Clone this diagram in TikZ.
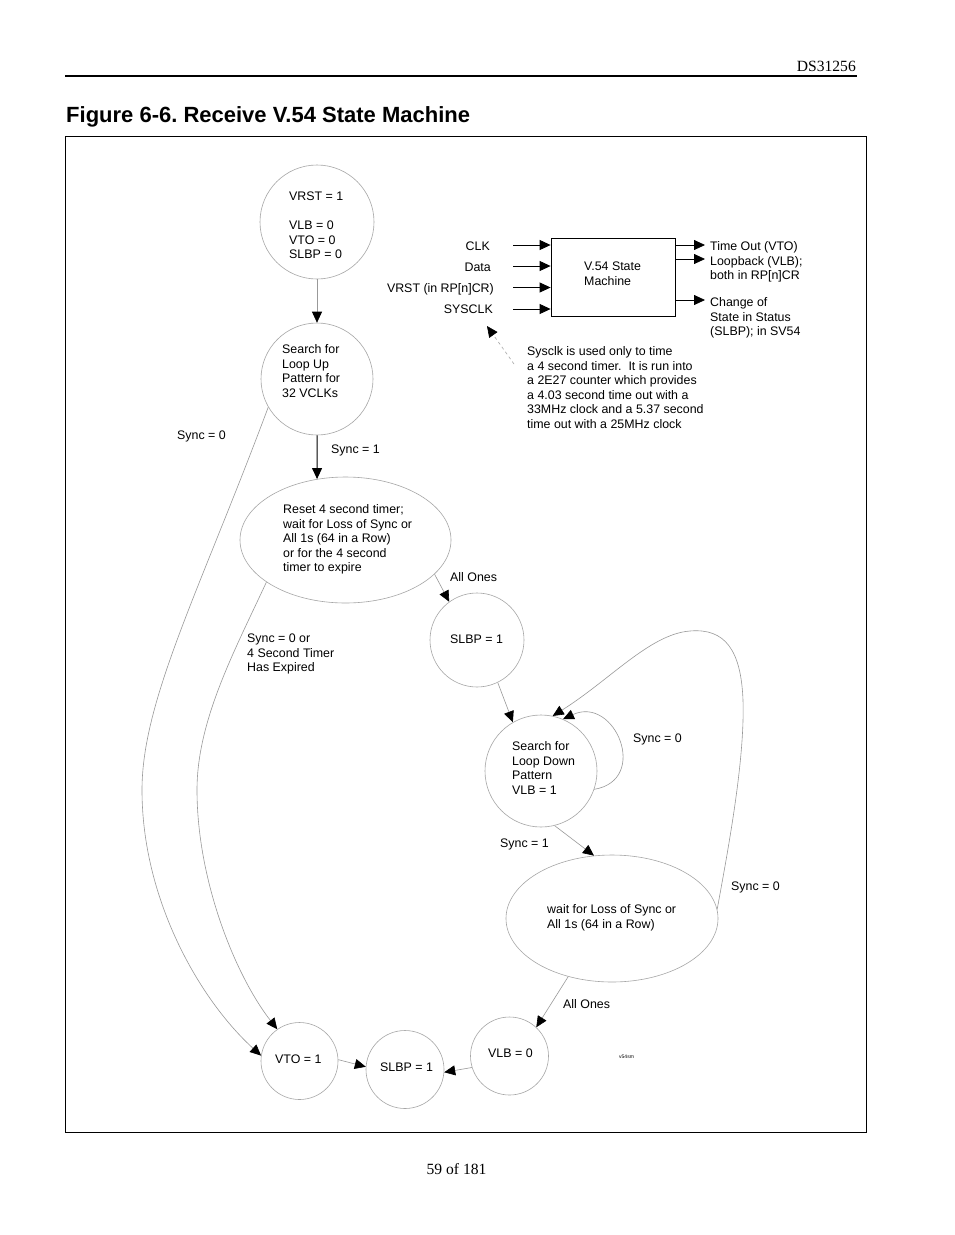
\documentclass[tikz,border=0pt]{standalone}
\usepackage{fontspec}
\setmainfont{Liberation Sans}
\newfontfamily\serifface{Liberation Serif}
\usetikzlibrary{shapes.geometric,arrows.meta}
\frenchspacing
\tikzset{
  state/.style={circle, draw=gray!70, line width=0.6pt, inner sep=0pt},
  oval/.style={ellipse, draw=gray!70, line width=0.6pt, inner sep=0pt},
  lbl/.style={font=\fontsize{12.4}{14.5}\selectfont, align=left, inner sep=0pt, anchor=north west},
  lblr/.style={font=\fontsize{12.4}{14.5}\selectfont, inner sep=0pt, anchor=base east},
  edge/.style={draw=gray!80, line width=0.6pt, -{Triangle[length=11pt,width=10pt,color=black]}},
  blackedge/.style={draw=black, line width=1pt, -{Triangle[length=11pt,width=10pt,color=black]}},
  ioarrow/.style={draw=black, line width=0.8pt, -{Triangle[length=11pt,width=10pt,color=black]}},
  notearrow/.style={draw=gray!70, line width=0.6pt, dash pattern=on 3pt off 3pt, -{Triangle[length=11pt,width=10pt,color=black]}},
}
\newcommand\txtat[4]{\node[lbl] (#1) at (#2,#3-10) {\rule{0pt}{10pt}#4};}
\begin{document}
\frenchspacing
\begin{tikzpicture}[x=1pt,y=-1pt]
\useasboundingbox (0,0) rectangle (954,1235);
\fill[white] (0,0) rectangle (954,1235);
% page furniture
\node[font=\serifface\fontsize{15.6}{18}\selectfont, anchor=base east, inner sep=0pt] (hdr) at (856,71) {DS31256};
\draw[line width=1.5pt] (65,76) -- (857,76);
\node[font=\fontsize{22}{24}\selectfont\bfseries, anchor=base west, inner sep=0pt] (title) at (66,122.5) {Figure 6-6. Receive V.54 State Machine};
\draw[line width=1pt] (65,136) rectangle (866,1132);
\node[font=\serifface\fontsize{15.6}{18}\selectfont, anchor=base, inner sep=0pt] (pg) at (456.5,1174) {59 of 181};
% states
\node[state, minimum size=114pt] (init) at (317,222) {};
\node[state, minimum size=112pt] (up) at (317,379) {};
\node[oval, minimum width=211pt, minimum height=126pt] (reset) at (345.5,540) {};
\node[state, minimum size=94pt] (slbpA) at (477,640) {};
\node[state, minimum size=112pt] (down) at (541,771) {};
\node[oval, minimum width=212pt, minimum height=127pt] (wait) at (612,918.5) {};
\node[state, minimum size=78pt] (vlb) at (509.5,1056) {};
\node[state, minimum size=78pt] (slbpB) at (405,1069.5) {};
\node[state, minimum size=77pt] (vto) at (299.5,1061) {};
% state texts
\txtat{tinit}{289}{200.5}{VRST = 1\\[14.5pt]VLB = 0\\VTO = 0\\SLBP = 0}
\txtat{tup}{282}{353.5}{Search for\\Loop Up\\Pattern for\\32 VCLKs}
\txtat{treset}{283}{513.5}{Reset 4 second timer;\\wait for Loss of Sync or\\All 1s (64 in a Row)\\or for the 4 second\\timer to expire}
\txtat{tslbpA}{450}{643.5}{SLBP = 1}
\txtat{tdown}{512}{750.5}{Search for\\Loop Down\\Pattern\\VLB = 1}
\txtat{twait}{547}{913.5}{wait for Loss of Sync or\\All 1s (64 in a Row)}
\txtat{tvlb}{488}{1057.5}{VLB = 0}
\txtat{tslbpB}{380}{1071.5}{SLBP = 1}
\txtat{tvto}{275}{1063.5}{VTO = 1}
% block
\node[draw, line width=0.8pt, minimum width=124pt, minimum height=78pt, inner sep=0pt] (blk) at (613,277) {};
\txtat{tblk}{584}{270.5}{V.54 State\\Machine}
\coordinate (iclk) at (513,245);
\coordinate (idata) at (513,266);
\coordinate (ivrst) at (513,287.5);
\coordinate (isys) at (513,309);
\draw[ioarrow] (iclk) -- (iclk -| blk.west);
\draw[ioarrow] (idata) -- (idata -| blk.west);
\draw[ioarrow] (ivrst) -- (ivrst -| blk.west);
\draw[ioarrow] (isys) -- (isys -| blk.west);
\node[lblr] (lclk) at (490,250.5) {CLK};
\node[lblr] (ldata) at (491,271.5) {Data};
\node[lblr] (lvrst) at (494,292.5) {VRST (in RP[n]CR)};
\node[lblr] (lsys) at (493,313.5) {SYSCLK};
\coordinate (ovto) at (705,245);
\coordinate (ovlb) at (705,259);
\coordinate (oslbp) at (705,300);
\draw[ioarrow] (ovto -| blk.east) -- (ovto);
\draw[ioarrow] (ovlb -| blk.east) -- (ovlb);
\draw[ioarrow] (oslbp -| blk.east) -- (oslbp);
\txtat{tout1}{710}{250.5}{Time Out (VTO)\\Loopback (VLB);\\both in RP[n]CR}
\txtat{tout2}{710}{306.5}{Change of\\State in Status\\(SLBP); in SV54}
\txtat{tnote}{527}{355.5}{Sysclk is used only to time\\a 4 second timer.~~It is run into\\a 2E27 counter which provides\\a 4.03 second time out with a\\33MHz clock and a 5.37 second\\time out with a 25MHz clock}
\coordinate (nstart) at (514,364);
\coordinate (ntip) at (487,326);
\draw[notearrow] (nstart) -- (ntip);
% transitions
\draw[edge] (init.south) -- (up.north);
\draw[blackedge] (up.south) -- (reset.115);
\draw[edge] (up.210) .. controls (200,590) and (142,700) .. (142,790) .. controls (142,900) and (200,1000) .. (vto.172);
\draw[edge] (reset.208) .. controls (235,650) and (197,720) .. (197,790) .. controls (197,880) and (235,975) .. (vto.125);
\draw[edge] (reset.339) -- (slbpA.126);
\draw[edge] (slbpA.296) -- (down.120);
\draw[edge] (down.341) .. controls (650,780) and (615,695) .. (down.67);
\draw[edge] (down.284) -- (wait.106);
\draw[edge] (wait.5) .. controls (728,850) and (745,760) .. (743,700) .. controls (741,650) and (725,628) .. (690,631) .. controls (650,634) and (610,680) .. (down.78);
\draw[edge] (wait.233) -- (vlb.47);
\draw[edge] (vlb.197) -- (slbpB.356);
\draw[edge] (vto.2) -- (slbpB.176);
% transition labels
\txtat{l1}{331}{453.5}{Sync = 1}
\txtat{l2}{177}{439.5}{Sync = 0}
\txtat{l3}{450}{581.5}{All Ones}
\txtat{l4}{247}{642.5}{Sync = 0 or\\4 Second Timer\\Has Expired}
\txtat{l5}{633}{742.5}{Sync = 0}
\txtat{l6}{500}{847.5}{Sync = 1}
\txtat{l7}{731}{890.5}{Sync = 0}
\txtat{l8}{563}{1008.5}{All Ones}
\node[font=\fontsize{5}{6}\selectfont, anchor=base west, inner sep=0pt] (sm) at (619,1058) {v54sm};
\end{tikzpicture}
\end{document}
